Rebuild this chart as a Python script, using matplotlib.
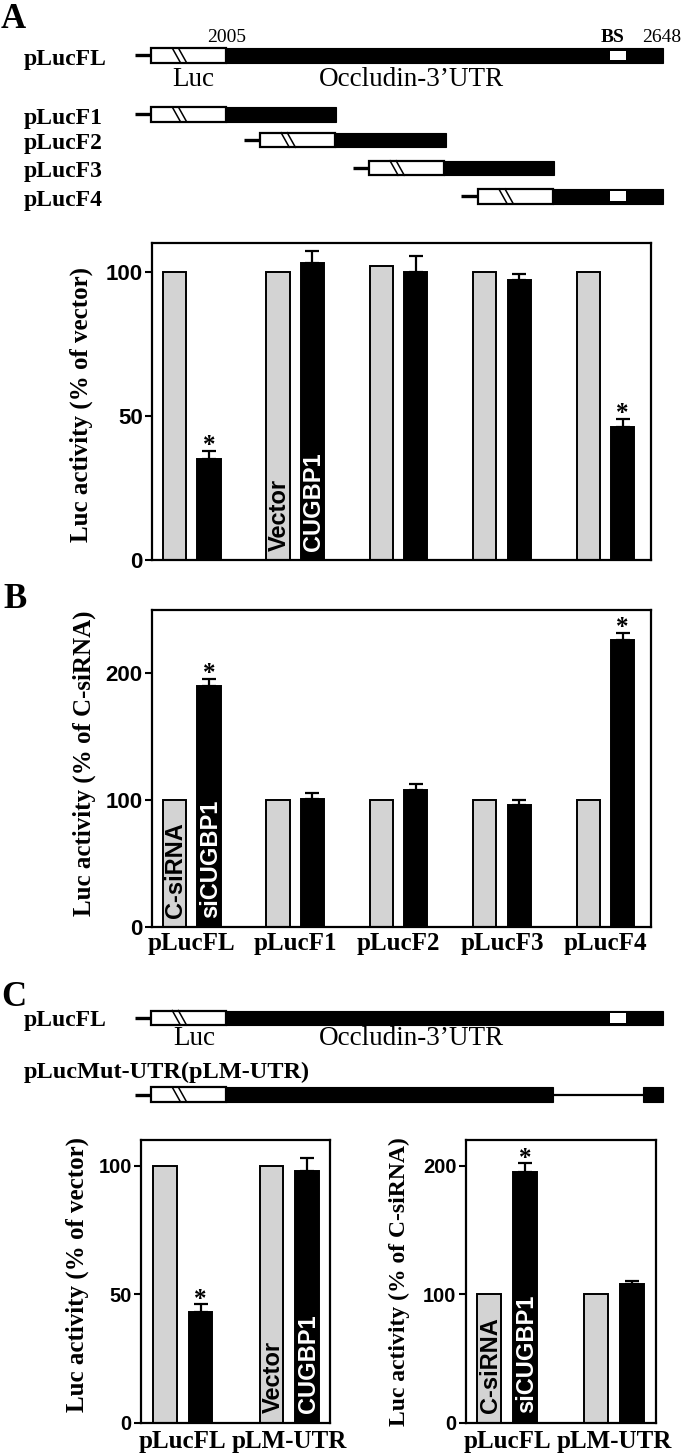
import matplotlib
matplotlib.use('Agg')
import matplotlib.pyplot as plt
import numpy as np
from matplotlib.patches import Rectangle

W, H, DPI = 683, 1455, 100
fig = plt.figure(figsize=(W / DPI, H / DPI), dpi=DPI)

SERIF = ['Liberation Serif', 'DejaVu Serif']
SANS = ['Liberation Sans', 'DejaVu Sans']
GREY = '#d3d3d3'

# ---------------- data ----------------
frag_names = ['pLucFL', 'pLucF1', 'pLucF2', 'pLucF3', 'pLucF4']

A_vector = [100, 100, 102, 100, 100]
A_cugbp1 = [35, 103, 100, 97, 46]
A_err = [3, 4, 5.5, 2, 3]
A_sig = [True, False, False, False, True]

B_csirna = [100, 100, 100, 100, 100]
B_sicugbp1 = [190, 101, 108, 96, 226]
B_err = [6, 5, 5, 4, 6]
B_sig = [True, False, False, False, True]

C_names = ['pLucFL', 'pLM-UTR']
C1_vector = [100, 100]
C1_cugbp1 = [43, 98]
C1_err = [3, 5]
C1_sig = [True, False]

C2_csirna = [100, 100]
C2_sicugbp1 = [195, 108]
C2_err = [7, 2]
C2_sig = [True, False]

# schematic: UTR segments in nt relative to position 2005
utr_start = [0, 0, 160, 320, 480]
utr_end = [643, 161, 323, 482, 643]
bs_start, bs_end = 565, 588
mut_segments = [(0, 480), (613, 643)]
LUC_LEN = 110
LEAD_LEN = 24

# ---------------- helpers ----------------
def rect_px(l, t, r, b):
    return [l / W, 1 - b / H, (r - l) / W, (b - t) / H]

def T(x, y, s, **kw):
    return fig.text(x / W, 1 - y / H, s, **kw)

# ---------------- schematic axes ----------------
SC = 0.6804  # px per nt
ax_s = fig.add_axes([0, 0, 1, 1])
ax_s.set_xlim(-226 / SC, (W - 226) / SC)
ax_s.set_ylim(H, 0)
ax_s.axis('off')

def draw_construct(yc, segs, hh=7.3):
    s0 = segs[0][0]
    luc0 = s0 - LUC_LEN
    ax_s.plot([luc0 - LEAD_LEN, luc0], [yc, yc], color='black', lw=2.4,
              solid_capstyle='butt')
    for i, (a, b) in enumerate(segs):
        ax_s.add_patch(Rectangle((a, yc - hh), b - a, 2 * hh, facecolor='black',
                                 edgecolor='black', lw=0.8))
        if i > 0:
            pa = segs[i - 1][1]
            ax_s.plot([pa, a], [yc, yc], color='black', lw=1.6)
    ax_s.add_patch(Rectangle((luc0, yc - hh), LUC_LEN, 2 * hh, facecolor='white',
                             edgecolor='black', lw=1.6))
    for h0 in (31, 40):
        ax_s.plot([luc0 + h0, luc0 + h0 + 12], [yc - hh, yc + hh], color='black', lw=1.1)
    segs_bs = [(a, b) for (a, b) in segs if a <= bs_start and b >= bs_end]
    if segs_bs:
        ax_s.add_patch(Rectangle((bs_start, yc - hh + 2.5), bs_end - bs_start,
                                 2 * hh - 5, facecolor='white', edgecolor='none'))

rows_A = [55.3, 114.3, 140, 168, 196.2]
for yc, a, b in zip(rows_A, utr_start, utr_end):
    draw_construct(yc, [(a, b)])
for yc, nm in zip(rows_A, frag_names):
    T(24, yc + 9.5, nm, fontsize=17, fontweight='bold', family=SERIF, va='baseline')

T(226.5, 42, '2005', fontsize=14, family=SERIF, ha='center', va='baseline')
T(613, 42, 'BS', fontsize=14, fontweight='bold', family=SERIF, ha='center', va='baseline')
T(662, 42, '2648', fontsize=14, family=SERIF, ha='center', va='baseline')
T(193, 86.5, 'Luc', fontsize=19.5, family=SERIF, ha='center', va='baseline')
T(411, 86.5, 'Occludin-3\u2019UTR', fontsize=19.5, family=SERIF, ha='center', va='baseline')

# panel C schematic
draw_construct(1017.8, [(utr_start[0], utr_end[0])])
draw_construct(1094.5, mut_segments)
T(24, 1026, 'pLucFL', fontsize=17, fontweight='bold', family=SERIF, va='baseline')
T(194, 1045, 'Luc', fontsize=19.5, family=SERIF, ha='center', va='baseline')
T(411, 1045, 'Occludin-3\u2019UTR', fontsize=19.5, family=SERIF, ha='center', va='baseline')
T(24, 1078, 'pLucMut-UTR(pLM-UTR)', fontsize=17.5, fontweight='bold', family=SERIF,
  va='baseline')

# panel letters
T(1, 28.5, 'A', fontsize=25, fontweight='bold', family=SERIF, va='baseline')
T(3, 608, 'B', fontsize=25, fontweight='bold', family=SERIF, va='baseline')
T(1, 1006, 'C', fontsize=25, fontweight='bold', family=SERIF, va='baseline')

# ---------------- bar panels ----------------
def bar_panel(rect, ctrl, treat, err, sig, ylim, yticks, xlim, xlabels,
              names, name_idx, tick_fs, xpad):
    ax = fig.add_axes(rect)
    x = np.arange(len(ctrl))
    w, off = 0.225, 0.166
    ax.errorbar(x + off, treat, yerr=[np.zeros(len(err)), err], fmt='none',
                ecolor='black', elinewidth=1.6, capsize=5, capthick=1.6, zorder=1)
    ax.bar(x - off, ctrl, w, color=GREY, edgecolor='black', linewidth=1.4, zorder=2)
    ax.bar(x + off, treat, w, color='black', edgecolor='black', linewidth=1.4, zorder=2)
    for xi, t, e, s in zip(x, treat, err, sig):
        if s:
            ax.annotate('*', (xi + off, t + e), xytext=(0, -1),
                        textcoords='offset points', ha='center', va='baseline',
                        fontsize=18, fontweight='bold', family=SERIF)
    ax.annotate(names[0], (name_idx - off, 0), xytext=(1, 7), textcoords='offset points',
                rotation=90, ha='center', va='bottom', fontsize=17, fontweight='bold',
                family=SANS, color='black', zorder=3)
    ax.annotate(names[1], (name_idx + off, 0), xytext=(1, 7), textcoords='offset points',
                rotation=90, ha='center', va='bottom', fontsize=17, fontweight='bold',
                family=SANS, color='white', zorder=3)
    ax.set_xlim(xlim)
    ax.set_ylim(ylim)
    ax.set_yticks(yticks)
    ax.set_yticklabels([str(v) for v in yticks], fontsize=tick_fs, fontweight='bold',
                       family=SANS)
    ax.tick_params(axis='y', direction='out', length=5, width=1.5, pad=1.5)
    if xlabels:
        ax.set_xticks(x)
        ax.set_xticklabels(xlabels, fontsize=18, fontweight='bold', family=SERIF)
        ax.tick_params(axis='x', length=0, pad=xpad)
    else:
        ax.set_xticks([])
    for sp in ax.spines.values():
        sp.set_linewidth(1.6)
    return ax

bar_panel(rect_px(151.8, 242.7, 650.5, 560.3), A_vector, A_cugbp1, A_err, A_sig,
          (0, 110), [0, 50, 100], (-0.386, 4.436), None, ('Vector', 'CUGBP1'), 1, 16, 4)
bar_panel(rect_px(151.8, 610, 650.5, 927.3), B_csirna, B_sicugbp1, B_err, B_sig,
          (0, 250), [0, 100, 200], (-0.386, 4.436), frag_names, ('C-siRNA', 'siCUGBP1'),
          0, 16, 3.5)
bar_panel(rect_px(140.7, 1140, 330, 1422.7), C1_vector, C1_cugbp1, C1_err, C1_sig,
          (0, 110), [0, 50, 100], (-0.397, 1.385), C_names, ('Vector', 'CUGBP1'), 1, 14.5, 5.5)
bar_panel(rect_px(465.5, 1140, 655.6, 1422.7), C2_csirna, C2_sicugbp1, C2_err, C2_sig,
          (0, 220), [0, 100, 200], (-0.39, 1.388), C_names, ('C-siRNA', 'siCUGBP1'), 0, 14.5, 5.5)

# y labels
T(81, 405, 'Luc activity (% of vector)', fontsize=18, fontweight='bold', family=SERIF,
  rotation=90, ha='center', va='center')
T(84, 763, 'Luc activity (% of C-siRNA)', fontsize=18, fontweight='bold', family=SERIF,
  rotation=90, ha='center', va='center')
T(77, 1275, 'Luc activity (% of vector)', fontsize=18, fontweight='bold', family=SERIF,
  rotation=90, ha='center', va='center')
T(399, 1282, 'Luc activity (% of C-siRNA)', fontsize=17, fontweight='bold', family=SERIF,
  rotation=90, ha='center', va='center')

fig.savefig('out.png', dpi=DPI)
